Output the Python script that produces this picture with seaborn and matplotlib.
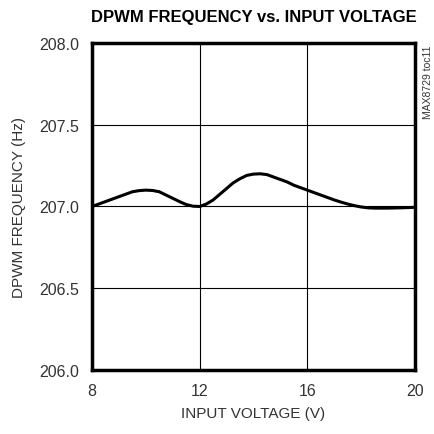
import matplotlib
matplotlib.use("Agg")
import matplotlib.pyplot as plt
import seaborn as sns
import pandas as pd

# values
input_voltage = [8, 8.25, 8.5, 8.75, 9, 9.25, 9.5, 9.75, 10, 10.25, 10.5, 10.75,
                 11, 11.25, 11.5, 11.75, 12, 12.25, 12.5, 12.75, 13, 13.25, 13.5,
                 13.75, 14, 14.25, 14.5, 14.75, 15, 15.25, 15.5, 15.75, 16, 16.25,
                 16.5, 16.75, 17, 17.25, 17.5, 17.75, 18, 18.25, 18.5, 19, 19.5, 20]
dpwm_freq = [207.000, 207.015, 207.030, 207.045, 207.060, 207.075, 207.090,
             207.097, 207.100, 207.098, 207.090, 207.070, 207.050, 207.030,
             207.012, 207.002, 207.000, 207.015, 207.040, 207.075, 207.110,
             207.145, 207.170, 207.190, 207.198, 207.200, 207.195, 207.180,
             207.165, 207.150, 207.130, 207.115, 207.100, 207.085, 207.070,
             207.055, 207.040, 207.027, 207.015, 207.005, 206.997, 206.992,
             206.990, 206.990, 206.992, 206.995]
x_ticks = [8, 12, 16, 20]
y_ticks = [206.0, 206.5, 207.0, 207.5, 208.0]

sns.set_style("white")
plt.rcParams['font.family'] = ['Liberation Sans', 'DejaVu Sans']

df = pd.DataFrame({'v': input_voltage, 'f': dpwm_freq})

fig = plt.figure(figsize=(4.35, 4.35), dpi=100)
ax = fig.add_axes([0.2115, 0.147, 0.7425, 0.752])

sns.lineplot(x='v', y='f', data=df, ax=ax, color='black', linewidth=2.2)

ax.set_xlim(8, 20)
ax.set_ylim(206, 208)
ax.set_xticks(x_ticks)
ax.set_yticks(y_ticks)
ax.set_xticklabels([str(t) for t in x_ticks])
ax.set_yticklabels([f"{t:.1f}" for t in y_ticks])
ax.grid(True, color='black', linewidth=0.8)
ax.tick_params(length=0, labelsize=11.5, colors='#333333', pad=9)
for s in ax.spines.values():
    s.set_linewidth(2.5)
    s.set_color('black')

ax.set_xlabel('INPUT VOLTAGE (V)', fontsize=11, color='#333333', labelpad=6)
ax.set_ylabel('DPWM FREQUENCY (Hz)', fontsize=11, color='#333333', labelpad=10)
fig.text(0.583, 0.96, 'DPWM FREQUENCY vs. INPUT VOLTAGE', ha='center', va='center',
         fontsize=12, fontweight='bold', color='black')
fig.text(0.984, 0.812, 'MAX8729 toc11', rotation=90, ha='center', va='center',
         fontsize=7.5, color='#333333')

fig.savefig('out.png', dpi=100)
